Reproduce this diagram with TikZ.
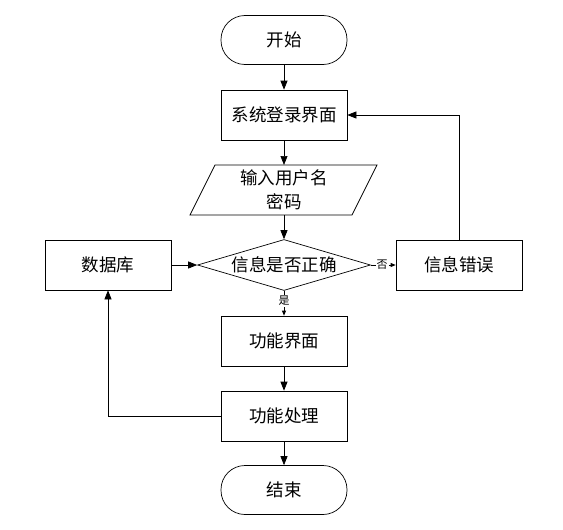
\documentclass[tikz,border=0pt]{standalone}
\usepackage{fontspec}
\setmainfont{Noto Sans CJK SC}
\usetikzlibrary{arrows.meta,shapes.geometric,calc}
\begin{document}
\begin{tikzpicture}[x=1pt,y=-1pt,
  font=\fontsize{17.5}{24}\selectfont,
  every node/.style={inner sep=0pt, align=center},
  procbox/.style={draw, line width=0.7pt, minimum width=126pt, minimum height=50pt},
  termbox/.style={draw, line width=0.7pt, minimum width=126pt, minimum height=49pt, rounded corners=24pt},
  decbox/.style={draw, line width=0.7pt, diamond, aspect=3.4, minimum width=173pt, minimum height=51pt},
  conn/.style={line width=0.7pt, -{Triangle[length=9pt,width=7pt]}},
  smallconn/.style={line width=0.7pt, -{Triangle[length=5pt,width=4pt]}},
  lbl/.style={font=\fontsize{11}{12}\selectfont, fill=white, inner sep=1pt}
]
\useasboundingbox (0,0) rectangle (563,530);
\node[termbox] (start) at (284,40) {开始};
\node[procbox] (login) at (284,115) {系统登录界面};
\node (input) at (284,190) {输入用户名\\密码};
\draw[line width=0.7pt] (215,165) -- (377,165) -- (352,215) -- (190,215) -- cycle;
\coordinate (inTop) at (284,165);
\coordinate (inBot) at (284,215);
\node[decbox] (check) at (284,265) {信息是否正确};
\node[procbox] (db) at (108,265) {数据库};
\node[procbox] (err) at (459,265) {信息错误};
\node[procbox] (func) at (284,341) {功能界面};
\node[procbox] (proc) at (284,416) {功能处理};
\node[termbox] (end) at (284,490) {结束};

\draw[conn] (start) -- (login);
\draw[conn] (login) -- (inTop);
\draw[conn] (inBot) -- (check);
\draw[conn] (db) -- (check);
\draw[smallconn] (check.east) -- node[lbl, pos=0.45] (no) {否} (err.west);
\draw[smallconn] (check.south) -- node[lbl, pos=0.4] (yes) {是} (func.north);
\draw[conn] (func) -- (proc);
\draw[conn] (proc) -- (end);
\draw[conn] (proc.west) -| (db.south);
\draw[conn] (err.north) |- (login.east);
\end{tikzpicture}
\end{document}
